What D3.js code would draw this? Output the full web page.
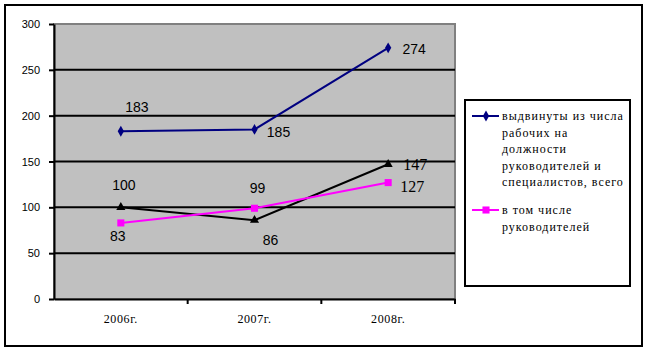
<!DOCTYPE html>
<html>
<head>
<meta charset="utf-8">
<script src="https://cdn.jsdelivr.net/npm/d3@7"></script>
<style>
  body { margin: 0; background: #fff; }
  svg { display: block; }
</style>
</head>
<body>
<div id="chart"></div>
<script>
// data
var years = ['2006г.', '2007г.', '2008г.'];
var promoted = [183, 185, 274];
var managers = [83, 99, 127];
var third = [100, 86, 147];
var yTicks = [0, 50, 100, 150, 200, 250, 300];
var legendFirst = ['выдвинуты из числа', 'рабочих на', 'должности', 'руководителей и', 'специалистов, всего'];
var legendSecond = ['в том числе', 'руководителей'];

var width = 647, height = 352;
var plot = { left: 54, right: 455, top: 24, bottom: 299 };

var svg = d3.select('#chart').append('svg')
    .attr('width', width)
    .attr('height', height);

// outer frame
svg.append('rect')
    .attr('x', 5).attr('y', 5)
    .attr('width', 637).attr('height', 341)
    .attr('fill', '#fff')
    .attr('stroke', '#000')
    .attr('stroke-width', 2);

var x = d3.scaleBand().domain(years).range([plot.left, plot.right]).padding(0);
var y = d3.scaleLinear().domain([0, 300]).range([plot.bottom, plot.top]);
var cx = function (d) { return x(d) + x.bandwidth() / 2; };

// plot area
svg.append('rect')
    .attr('x', plot.left).attr('y', plot.top)
    .attr('width', plot.right - plot.left).attr('height', plot.bottom - plot.top)
    .attr('fill', '#c0c0c0')
    .attr('stroke', '#808080')
    .attr('stroke-width', 2);

// gridlines
svg.append('g').selectAll('line')
    .data(yTicks.filter(function (d) { return d > 0 && d < 300; }))
    .enter().append('line')
    .attr('x1', plot.left).attr('x2', plot.right)
    .attr('y1', function (d) { return y(d); })
    .attr('y2', function (d) { return y(d); })
    .attr('stroke', '#000')
    .attr('stroke-width', 2);

// y axis
var yAxis = svg.append('g')
    .attr('transform', 'translate(' + plot.left + ',0)')
    .call(d3.axisLeft(y).tickValues(yTicks).tickSize(5).tickPadding(9).tickSizeOuter(0));
yAxis.select('.domain').attr('stroke', '#000').attr('stroke-width', 2);
yAxis.selectAll('.tick line').attr('stroke', '#000').attr('stroke-width', 2);
yAxis.selectAll('text')
    .attr('fill', '#000')
    .style('font-family', '"Liberation Sans", Arial, sans-serif')
    .style('font-size', '11px');

// x axis
var xAxis = svg.append('g')
    .attr('transform', 'translate(0,' + plot.bottom + ')')
    .call(d3.axisBottom(x).tickSize(0).tickPadding(15).tickSizeOuter(0));
xAxis.select('.domain').attr('stroke', '#000').attr('stroke-width', 2);
xAxis.selectAll('text')
    .attr('fill', '#000')
    .style('font-family', '"Liberation Serif", "Times New Roman", serif')
    .style('font-size', '12px')
    .style('letter-spacing', '0.6px');
xAxis.selectAll('.edge')
    .data(years.slice(1).concat(['end']))
    .enter().append('line')
    .attr('class', 'edge')
    .attr('x1', function (d) { return d === 'end' ? plot.right : x(d); })
    .attr('x2', function (d) { return d === 'end' ? plot.right : x(d); })
    .attr('y1', 0).attr('y2', 5)
    .attr('stroke', '#000').attr('stroke-width', 2);

var line = function (vals) {
    return d3.line()
        .x(function (d, i) { return cx(years[i]); })
        .y(function (d) { return y(d); })(vals);
};

var series = [
    { vals: promoted, color: '#000080', marker: d3.symbolDiamond, size: 34,
      labels: [{ dx: 16, dy: -24, font: 'sans' }, { dx: 24, dy: 3, font: 'sans' }, { dx: 26, dy: 1, font: 'sans' }] },
    { vals: third, color: '#000000', marker: d3.symbolTriangle, size: 36,
      labels: [{ dx: 3, dy: -22, font: 'sans' }, { dx: 16, dy: 20, font: 'sans' }, { dx: 27, dy: 0, font: 'serif' }] },
    { vals: managers, color: '#ff00ff', marker: d3.symbolSquare, size: 50,
      labels: [{ dx: -3, dy: 13, font: 'sans' }, { dx: 3, dy: -20, font: 'sans' }, { dx: 24, dy: 4, font: 'serif' }] }
];

series.forEach(function (s) {
    svg.append('path')
        .attr('d', line(s.vals))
        .attr('fill', 'none')
        .attr('stroke', s.color)
        .attr('stroke-width', 2);

    svg.append('g').selectAll('path')
        .data(s.vals)
        .enter().append('path')
        .attr('d', d3.symbol().type(s.marker).size(s.size))
        .attr('transform', function (d, i) { return 'translate(' + cx(years[i]) + ',' + y(d) + ')'; })
        .attr('fill', s.color);

    svg.append('g').selectAll('text')
        .data(s.vals)
        .enter().append('text')
        .attr('x', function (d, i) { return cx(years[i]) + s.labels[i].dx; })
        .attr('y', function (d, i) { return y(d) + s.labels[i].dy; })
        .attr('text-anchor', 'middle')
        .attr('dominant-baseline', 'central')
        .style('font-family', function (d, i) {
            return s.labels[i].font === 'serif' ? '"Liberation Serif", serif' : '"Liberation Sans", Arial, sans-serif';
        })
        .style('font-size', function (d, i) { return s.labels[i].font === 'serif' ? '16px' : '14px'; })
        .attr('fill', '#000')
        .text(function (d) { return d; });
});

// legend
var legend = svg.append('g');
legend.append('rect')
    .attr('x', 465).attr('y', 100)
    .attr('width', 165).attr('height', 186)
    .attr('fill', '#fff')
    .attr('stroke', '#000')
    .attr('stroke-width', 2);

var entries = [
    { lines: legendFirst, color: '#000080', marker: d3.symbolDiamond, size: 34, top: 116 },
    { lines: legendSecond, color: '#ff00ff', marker: d3.symbolSquare, size: 50, top: 210 }
];

entries.forEach(function (e) {
    legend.append('line')
        .attr('x1', 472).attr('x2', 499)
        .attr('y1', e.top).attr('y2', e.top)
        .attr('stroke', e.color).attr('stroke-width', 2);
    legend.append('path')
        .attr('d', d3.symbol().type(e.marker).size(e.size))
        .attr('transform', 'translate(486,' + e.top + ')')
        .attr('fill', e.color);
    legend.append('g').selectAll('text')
        .data(e.lines)
        .enter().append('text')
        .attr('x', 502)
        .attr('y', function (d, i) { return e.top + i * 16.5; })
        .attr('dominant-baseline', 'central')
        .style('font-family', '"Liberation Serif", "Times New Roman", serif')
        .style('font-size', '12px')
        .style('letter-spacing', '1px')
        .attr('fill', '#000')
        .text(function (d) { return d; });
});
</script>
</body>
</html>
